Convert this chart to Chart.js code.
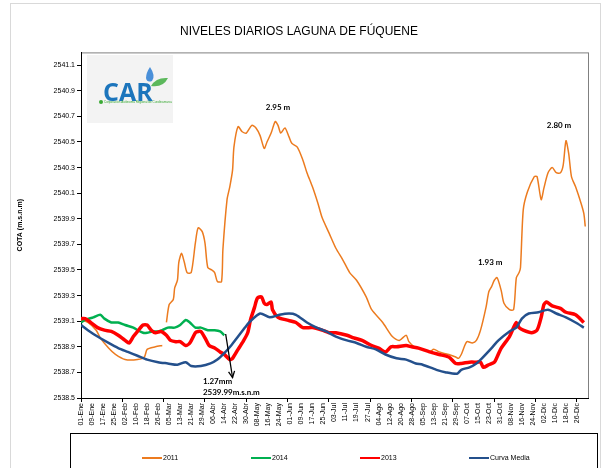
<!DOCTYPE html>
<html>
<head>
<meta charset="utf-8">
<script src="https://cdn.jsdelivr.net/npm/chart.js@4/dist/chart.umd.min.js"></script>
<style>
  html, body { margin:0; padding:0; background:#fff; }
  #wrap { width:604px; height:468px; }
</style>
</head>
<body>
<div id="wrap"><canvas id="chart"></canvas></div>
<script>
'use strict';

/* ─── Tick labels (one every 8 days, leap year) ─────────────────── */
const dateLabels = ['01-Ene','09-Ene','17-Ene','25-Ene','02-Feb','10-Feb','18-Feb','26-Feb',
  '05-Mar','13-Mar','21-Mar','29-Mar','06-Abr','14-Abr','22-Abr','30-Abr','08-May','16-May',
  '24-May','01-Jun','09-Jun','17-Jun','25-Jun','03-Jul','11-Jul','19-Jul','27-Jul','04-Ago',
  '12-Ago','20-Ago','28-Ago','05-Sep','13-Sep','21-Sep','29-Sep','07-Oct','15-Oct','23-Oct',
  '31-Oct','08-Nov','16-Nov','24-Nov','02-Dic','10-Dic','18-Dic','26-Dic'];
const majorTickDays = [0,30,60,90,120,150,180,210,240,270,300,330,360];
const yTicks = [2538.5,2538.7,2538.9,2539.1,2539.3,2539.5,2539.7,2539.9,2540.1,2540.3,2540.5,2540.7,2540.9,2541.1];

/* ─── Series (day of year, level m.s.n.m) ───────────────────────── */
const days2011 = [0,5,11,14,20,25,32,41,46,48,54,59,61,62,64,67,68,70,71,73,75,77,80,83,85,88,90,92,95,97,99,102,103,
  106,108,110,111,114,117,120,124,127,130,133,135,138,141,143,145,148,151,153,157,161,164,168,172,175,180,185,190,195,
  200,207,211,219,226,231,236,238,242,245,253,256,260,263,267,272,274,276,280,284,287,290,294,296,298,300,302,305,307,
  311,314,316,318,319,321,324,329,331,334,336,339,342,345,348,350,352,354,356,359,363,365,366];
const lvl2011 = [2539.11,2539.09,2539.03,2538.97,2538.89,2538.84,2538.80,2538.80,2538.82,2538.88,2538.90,2538.91,null,
  2539.09,2539.23,2539.27,2539.36,2539.42,2539.56,2539.63,2539.56,2539.48,2539.48,2539.71,2539.83,2539.80,2539.71,
  2539.52,2539.50,2539.48,2539.41,2539.41,2539.66,2540.05,2540.15,2540.28,2540.46,2540.62,2540.58,2540.57,2540.63,
  2540.61,2540.55,2540.45,2540.50,2540.57,2540.66,2540.63,2540.57,2540.61,2540.54,2540.49,2540.46,2540.36,2540.26,
  2540.15,2540.02,2539.91,2539.79,2539.67,2539.58,2539.48,2539.42,2539.29,2539.19,2539.09,2538.98,2538.95,2538.99,
  2538.94,2538.90,2538.89,2538.86,2538.88,2538.86,2538.85,2538.84,2538.82,2538.81,2538.84,2538.94,2538.93,2538.95,
  2539.03,2539.21,2539.33,2539.37,2539.42,2539.44,2539.34,2539.24,2539.19,2539.19,2539.44,2539.48,2539.52,2539.97,
  2540.11,2540.23,2540.23,2540.05,2540.14,2540.26,2540.30,2540.26,2540.26,2540.32,2540.51,2540.41,2540.23,2540.15,
  2540.02,2539.94,2539.84];

const days2014 = [0,3,9,14,17,22,27,32,38,41,45,48,52,56,59,63,68,72,76,79,83,87,92,97,101,104];
const lvl2014 = [2539.09,2539.11,2539.13,2539.15,2539.12,2539.09,2539.09,2539.07,2539.05,2539.03,2539.01,2539.01,
  2539.02,2539.02,2539.03,2539.05,2539.05,2539.07,2539.11,2539.09,2539.05,2539.05,2539.03,2539.03,2539.02,2538.99];

const days2013 = [0,3,7,12,17,22,27,32,35,38,41,45,48,51,54,58,62,65,69,72,76,79,83,85,87,90,93,97,101,104,108,110,
  114,117,121,123,126,128,131,133,135,138,139,143,149,156,161,168,175,180,185,193,198,204,211,216,221,225,229,236,
  240,245,253,260,267,272,276,282,287,290,292,296,300,302,305,311,314,316,318,321,327,331,334,336,338,342,348,352,
  359,365];
const lvl2013 = [2539.12,2539.12,2539.09,2539.05,2539.03,2539.02,2538.99,2538.95,2538.93,2538.98,2539.02,2539.07,
  2539.07,2539.03,2539.01,2539.02,2538.99,2538.95,2538.94,2538.94,2538.91,2538.93,2539.01,2539.02,2539.02,2538.97,
  2538.91,2538.89,2538.86,2538.84,2538.80,2538.81,2538.88,2538.93,2539.01,2539.11,2539.21,2539.28,2539.29,2539.24,
  2539.23,2539.25,2539.19,2539.13,2539.11,2539.09,2539.05,2539.05,2539.03,2539.01,2539.01,2538.99,2538.97,2538.95,
  2538.91,2538.89,2538.86,2538.90,2538.90,2538.91,2538.90,2538.89,2538.86,2538.84,2538.82,2538.77,2538.77,2538.78,
  2538.78,2538.78,2538.74,2538.76,2538.78,2538.82,2538.89,2538.98,2539.05,2539.09,2539.05,2539.03,2539.01,2539.03,
  2539.13,2539.23,2539.25,2539.22,2539.20,2539.17,2539.15,2539.09];

const daysMedia = [0,5,12,20,27,34,41,48,56,63,70,76,80,87,94,99,104,109,114,119,122,130,137,144,151,156,164,171,178,
  185,193,200,207,214,221,229,236,243,248,258,265,273,276,282,287,291,298,303,311,316,320,325,332,339,345,352,359,365];
const lvlMedia = [2539.07,2539.03,2538.98,2538.93,2538.89,2538.86,2538.83,2538.80,2538.78,2538.77,2538.76,2538.78,
  2538.75,2538.75,2538.77,2538.80,2538.85,2538.91,2538.98,2539.05,2539.09,2539.16,2539.13,2539.15,2539.16,2539.15,
  2539.09,2539.05,2539.02,2538.98,2538.95,2538.93,2538.90,2538.88,2538.84,2538.81,2538.80,2538.77,2538.76,2538.72,
  2538.70,2538.69,2538.72,2538.74,2538.77,2538.81,2538.89,2538.95,2539.02,2539.05,2539.12,2539.16,2539.17,2539.19,
  2539.16,2539.13,2539.09,2539.05];

/* ─── Annotations (data units) ──────────────────────────────────── */
const peakNotes = [
  { text:'2.95 m', day:143, val:2540.77, align:'center' },
  { text:'2.80 m', day:347, val:2540.63, align:'center' },
  { text:'1.93 m', day:297, val:2539.56, align:'center' },
  { text:'1.27mm', day:88.5, val:2538.63, align:'left' },
  { text:'2539.99m.s.n.m', day:88.5, val:2538.54, align:'left' },
];
const arrowFrom = { day:105, val:2539.00 };
const arrowTo   = { day:110, val:2538.66 };

const FONT = "'Liberation Sans', Arial, sans-serif";

const pts = (days, vals) => days.map((d, i) => ({ x:d, y:vals[i] }));

function series(label, days, vals, color, width, order) {
  return {
    label, data: pts(days, vals), borderColor: color, backgroundColor: color,
    borderWidth: width, pointRadius: 0, tension: 0.25, spanGaps: false, order,
  };
}

/* ─── Background, frame, logo ───────────────────────────────────── */
const framePlugin = {
  id: 'frame',
  beforeDraw(chart) {
    const { ctx, chartArea: a } = chart;
    ctx.save();
    ctx.fillStyle = '#fff';
    ctx.fillRect(0, 0, chart.width, chart.height);
    ctx.strokeStyle = '#d9d9d9'; ctx.lineWidth = 1;
    ctx.strokeRect(10.5, 3.5, 590, 480);
    ctx.strokeStyle = '#808080';
    ctx.strokeRect(a.left + 0.5, a.top + 0.5, a.right - a.left, a.bottom - a.top);

    /* CAR logo */
    ctx.fillStyle = '#f3f3f3';
    ctx.fillRect(87, 55, 86, 68);
    ctx.fillStyle = '#1c75bc';
    ctx.font = "bold 25px 'Open Sans', Arial, sans-serif";
    ctx.textBaseline = 'alphabetic';
    ctx.fillText('CAR', 103, 101);
    ctx.beginPath();                       // water drop
    ctx.moveTo(150, 67);
    ctx.quadraticCurveTo(156, 76, 152, 81);
    ctx.quadraticCurveTo(147, 83, 146, 78);
    ctx.quadraticCurveTo(146, 73, 150, 67);
    ctx.fillStyle = '#4a90d9'; ctx.fill();
    ctx.beginPath();                       // leaf
    ctx.moveTo(151, 86);
    ctx.quadraticCurveTo(156, 77, 168, 78);
    ctx.quadraticCurveTo(163, 88, 151, 86);
    ctx.fillStyle = '#5cb85c'; ctx.fill();
    ctx.beginPath(); ctx.arc(101, 102, 2, 0, Math.PI * 2);
    ctx.fillStyle = '#3aaa35'; ctx.fill();
    ctx.font = "3px " + FONT; ctx.fillStyle = '#3aaa35';
    ctx.fillText('Corporación Autónoma Regional de Cundinamarca', 104, 103);
    ctx.restore();
  },
  afterDatasetsDraw(chart) {
    const { ctx, scales: { x, y } } = chart;
    ctx.save();
    ctx.fillStyle = '#000';
    ctx.font = "bold 8px Lato, " + FONT;
    ctx.textBaseline = 'middle';
    peakNotes.forEach(n => {
      ctx.textAlign = n.align;
      ctx.fillText(n.text, x.getPixelForValue(n.day), y.getPixelForValue(n.val));
    });

    /* arrow */
    const x1 = x.getPixelForValue(arrowFrom.day), y1 = y.getPixelForValue(arrowFrom.val);
    const x2 = x.getPixelForValue(arrowTo.day),   y2 = y.getPixelForValue(arrowTo.val);
    const ang = Math.atan2(y2 - y1, x2 - x1);
    ctx.strokeStyle = '#000'; ctx.lineWidth = 1.3;
    ctx.beginPath(); ctx.moveTo(x1, y1); ctx.lineTo(x2, y2); ctx.stroke();
    ctx.beginPath();
    ctx.moveTo(x2 - 7 * Math.cos(ang - 0.45), y2 - 7 * Math.sin(ang - 0.45));
    ctx.lineTo(x2, y2);
    ctx.lineTo(x2 - 7 * Math.cos(ang + 0.45), y2 - 7 * Math.sin(ang + 0.45));
    ctx.stroke();

    /* legend box */
    ctx.strokeStyle = '#000'; ctx.lineWidth = 1;
    ctx.strokeRect(70.5, 433.5, 527, 40);
    ctx.font = "7px " + FONT;
    ctx.textAlign = 'left';
    const sets = [...chart.data.datasets];
    sets.forEach((ds, i) => {
      const lx = 142 + i * 109, ly = 458;
      ctx.strokeStyle = ds.borderColor; ctx.lineWidth = 2;
      ctx.beginPath(); ctx.moveTo(lx, ly); ctx.lineTo(lx + 20, ly); ctx.stroke();
      ctx.fillStyle = '#000';
      ctx.fillText(ds.label, lx + 21, ly);
    });
    ctx.restore();
  }
};

new Chart(document.getElementById('chart'), {
  type: 'line',
  data: {
    datasets: [
      series('2011', days2011, lvl2011, '#ec7b1f', 1.5, 3),
      series('2014', days2014, lvl2014, '#00b050', 2.5, 2),
      series('2013', days2013, lvl2013, '#ff0000', 3.5, 1),
      series('Curva Media', daysMedia, lvlMedia, '#24508c', 2.5, 0),
    ]
  },
  options: {
    responsive: true,
    maintainAspectRatio: false,
    animation: false,
    layout: { padding: { left: 10, right: 16, top: 0, bottom: 40 } },
    plugins: {
      legend: { display: false },
      tooltip: { enabled: false },
      title: {
        display: true, text: 'NIVELES DIARIOS LAGUNA DE FÚQUENE', color: '#000',
        font: { family: FONT, size: 12, weight: 'normal' },
        padding: { top: 24, bottom: 14 }
      }
    },
    scales: {
      x: {
        type: 'linear', min: 0, max: 368,
        afterFit: s => { s.height = 30; },
        afterBuildTicks: s => {
          const vals = [...new Set([...dateLabels.map((_, i) => i * 8), ...majorTickDays])].sort((a, b) => a - b);
          s.ticks = vals.map(v => ({ value: v }));
        },
        ticks: {
          autoSkip: false, minRotation: 90, maxRotation: 90, padding: 1, color: '#000',
          font: { family: FONT, size: 7 },
          callback: v => (v % 8 === 0 ? dateLabels[v / 8] : '')
        },
        grid: {
          drawOnChartArea: false, tickLength: 4,
          tickColor: c => (c.tick && majorTickDays.includes(c.tick.value) ? '#000' : 'rgba(0,0,0,0)')
        },
        border: { color: '#000', width: 1 }
      },
      y: {
        min: 2538.5, max: 2541.2,
        afterFit: s => { s.width = 71; },
        afterBuildTicks: s => { s.ticks = yTicks.map(v => ({ value: v })); },
        ticks: { color: '#000', padding: 2, font: { family: FONT, size: 7 }, callback: v => v.toFixed(1) },
        grid: { drawOnChartArea: false, tickLength: 4, tickColor: '#000' },
        border: { color: '#000', width: 1 },
        title: {
          display: true, text: 'COTA (m.s.n.m)', color: '#000',
          font: { family: FONT, size: 7, weight: 'bold' }, padding: { top: 6, bottom: 0 }
        }
      }
    }
  },
  plugins: [framePlugin]
});
</script>
</body>
</html>
